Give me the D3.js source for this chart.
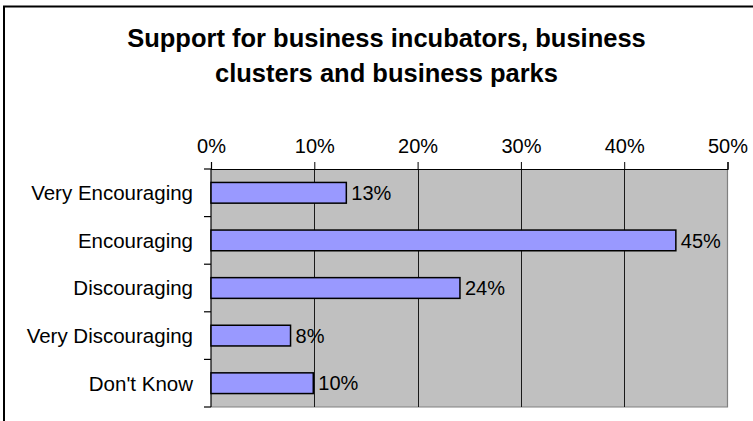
<!DOCTYPE html>
<html>
<head>
<meta charset="utf-8">
<script src="https://cdn.jsdelivr.net/npm/d3@7"></script>
<style>
  html, body { margin: 0; padding: 0; background: #fff; }
  svg { display: block; font-family: "Liberation Sans", Arial, sans-serif; }
</style>
</head>
<body>
<div id="chart"></div>
<script>
// ── Data ──
const categories = ['Very Encouraging', 'Encouraging', 'Discouraging', 'Very Discouraging', "Don't Know"];
const shares = [0.131, 0.450, 0.241, 0.077, 0.099];
const xTicks = [0, 0.1, 0.2, 0.3, 0.4, 0.5];
const titleLines = ['Support for business incubators, business', 'clusters and business parks'];

const width = 753, height = 421;
const plot = { left: 211, top: 169, right: 727.5, bottom: 407 };

const svg = d3.select('#chart').append('svg')
  .attr('width', width).attr('height', height);

// ── Outer chart border (cropped on right/bottom) ──
svg.append('rect')
  .attr('x', 4).attr('y', 6.5)
  .attr('width', width + 10).attr('height', height + 10)
  .attr('fill', '#fff').attr('stroke', '#000').attr('stroke-width', 2);

// ── Title ──
svg.append('g').selectAll('text').data(titleLines).join('text')
  .attr('x', 386.5)
  .attr('y', function(d, i) { return 47 + i * 34.7; })
  .attr('text-anchor', 'middle')
  .attr('font-size', 25.5).attr('font-weight', 'bold').attr('fill', '#000')
  .text(function(d) { return d; });

// ── Scales ──
const x = d3.scaleLinear().domain([0, 0.5]).range([plot.left, plot.right]);
const y = d3.scaleBand().domain(categories).range([plot.top, plot.bottom])
  .paddingInner(0.565).paddingOuter(0.565 / 2);

// ── Plot area ──
svg.append('rect')
  .attr('x', plot.left).attr('y', plot.top)
  .attr('width', plot.right - plot.left).attr('height', plot.bottom - plot.top)
  .attr('fill', '#c0c0c0');

// right / bottom frame in gray
svg.append('path')
  .attr('d', 'M' + plot.right + ',' + plot.top + 'V' + plot.bottom + 'H' + plot.left)
  .attr('fill', 'none').attr('stroke', '#808080').attr('stroke-width', 1.2);

// ── Gridlines ──
svg.append('g').selectAll('line').data(xTicks.slice(1, -1)).join('line')
  .attr('x1', function(d) { return Math.round(x(d)) + 0.5; })
  .attr('x2', function(d) { return Math.round(x(d)) + 0.5; })
  .attr('y1', plot.top).attr('y2', plot.bottom)
  .attr('stroke', '#1a1a1a').attr('stroke-width', 1);

// ── Top axis ──
const xAxis = d3.axisTop(x).tickValues(xTicks).tickSize(7).tickPadding(9)
  .tickFormat(d3.format('.0%'));
const gx = svg.append('g').attr('transform', 'translate(0,' + plot.top + ')').call(xAxis);
gx.select('.domain').attr('stroke', '#000').attr('stroke-width', 1.2);
gx.selectAll('.tick line').attr('stroke', '#000');
gx.selectAll('.tick text')
  .attr('font-size', 20).attr('fill', '#000')
  .attr('font-family', '"Liberation Sans", Arial, sans-serif');

// ── Left axis: line, boundary ticks, labels ──
svg.append('line')
  .attr('x1', plot.left).attr('x2', plot.left)
  .attr('y1', plot.top).attr('y2', plot.bottom)
  .attr('stroke', '#000').attr('stroke-width', 1.2);

const bounds = d3.range(categories.length + 1).map(function(i) { return plot.top + i * y.step(); });
svg.append('g').selectAll('line').data(bounds).join('line')
  .attr('x1', plot.left - 7).attr('x2', plot.left)
  .attr('y1', function(d) { return d; }).attr('y2', function(d) { return d; })
  .attr('stroke', '#000').attr('stroke-width', 1.2);

svg.append('g').selectAll('text').data(categories).join('text')
  .attr('x', plot.left - 18)
  .attr('y', function(d) { return y(d) + y.bandwidth() / 2; })
  .attr('dy', '0.36em')
  .attr('text-anchor', 'end')
  .attr('font-size', 20.5).attr('fill', '#000')
  .text(function(d) { return d; });

// ── Bars ──
svg.append('g').selectAll('rect').data(shares).join('rect')
  .attr('x', x(0))
  .attr('y', function(d, i) { return y(categories[i]); })
  .attr('width', function(d) { return x(d) - x(0); })
  .attr('height', y.bandwidth())
  .attr('fill', '#9999ff').attr('stroke', '#000').attr('stroke-width', 1.5);

// ── Data labels ──
svg.append('g').selectAll('text').data(shares).join('text')
  .attr('x', function(d) { return x(d) + 5; })
  .attr('y', function(d, i) { return y(categories[i]) + y.bandwidth() / 2; })
  .attr('dy', '0.36em')
  .attr('font-size', 20).attr('fill', '#000')
  .text(function(d) { return d3.format('.0%')(d); });
</script>
</body>
</html>
